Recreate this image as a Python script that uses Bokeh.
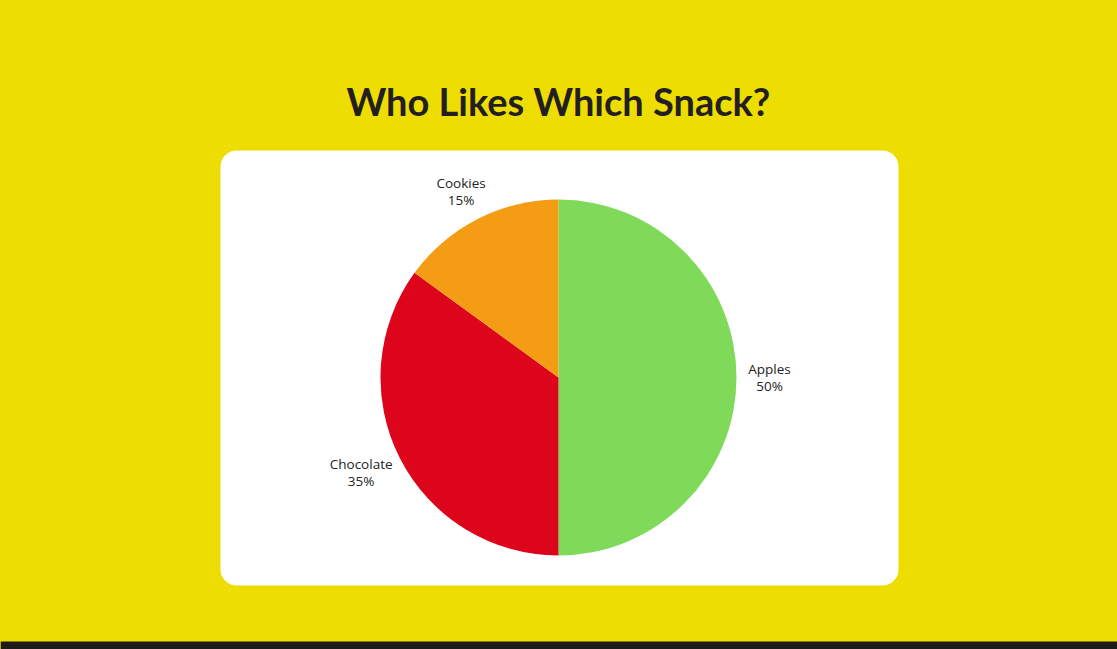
import math
from bokeh.plotting import figure
from bokeh.models import ColumnDataSource, Range1d, BoxAnnotation
from bokeh.core.properties import value
from bokeh.embed import file_html
from bokeh.resources import INLINE

# ---- data ----
categories = ["Apples", "Chocolate", "Cookies"]
shares = [50, 35, 15]
colors = ["#80DA5A", "#DC051B", "#F39C14"]
title_text = "Who Likes Which Snack?"

W, H = 1117, 649
CX, CY, R = 558, H - 377, 178

p = figure(width=W, height=H, output_backend="svg", toolbar_location=None,
           x_range=Range1d(0, W), y_range=Range1d(0, H),
           x_axis_location=None, y_axis_location=None, min_border=0)
p.grid.visible = False
p.outline_line_color = None
p.background_fill_color = "#EEDD02"
p.border_fill_color = "#EEDD02"

# card
p.add_layout(BoxAnnotation(left=220, right=898, bottom=H - 585, top=H - 150,
                           fill_color="white", fill_alpha=1.0, line_color=None,
                           border_radius=16, level="underlay"))
# bottom bar
p.add_layout(BoxAnnotation(left=0, right=W, bottom=0, top=8,
                           fill_color="#1E1B18", fill_alpha=1.0, line_color=None,
                           level="underlay"))

total = sum(shares)
starts, ends, lx, ly, labels = [], [], [], [], []
cum = 0
for name, s in zip(categories, shares):
    a0 = math.pi / 2 - 2 * math.pi * cum / total
    cum += s
    a1 = math.pi / 2 - 2 * math.pi * cum / total
    starts.append(a0)
    ends.append(a1)
    mid = (a0 + a1) / 2
    dx, dy = math.cos(mid), math.sin(mid)
    w_est = 7.0 * len(name)
    rl = R + 31
    lx.append(CX + dx * rl + dx * (w_est / 2 - 19))
    ly.append(CY + dy * rl)
    labels.append(f"{name}\n{s}%")

src = ColumnDataSource(dict(start=starts, end=ends, color=colors))
p.wedge(x=CX, y=CY, radius=R, start_angle="start", end_angle="end",
        direction="clock", fill_color="color", line_color=None, source=src)

lsrc = ColumnDataSource(dict(x=lx, y=ly, text=labels))
p.text(x="x", y="y", text="text", source=lsrc, text_align="center",
       text_baseline="middle", text_font=value("Open Sans"),
       text_font_size="13.5px", text_color="#222222", text_line_height=0.95)

p.text(x=[CX], y=[H - 100], text=[title_text], text_align="center",
       text_baseline="middle", text_font=value("Lato"), text_font_style="bold",
       text_font_size="38px", text_color="#231F20")

open("out.html", "w").write(file_html(p, INLINE).replace(
    "<head>", "<head><style>html,body{margin:0;padding:0;overflow:hidden;background:#EEDD02;}</style>", 1))
